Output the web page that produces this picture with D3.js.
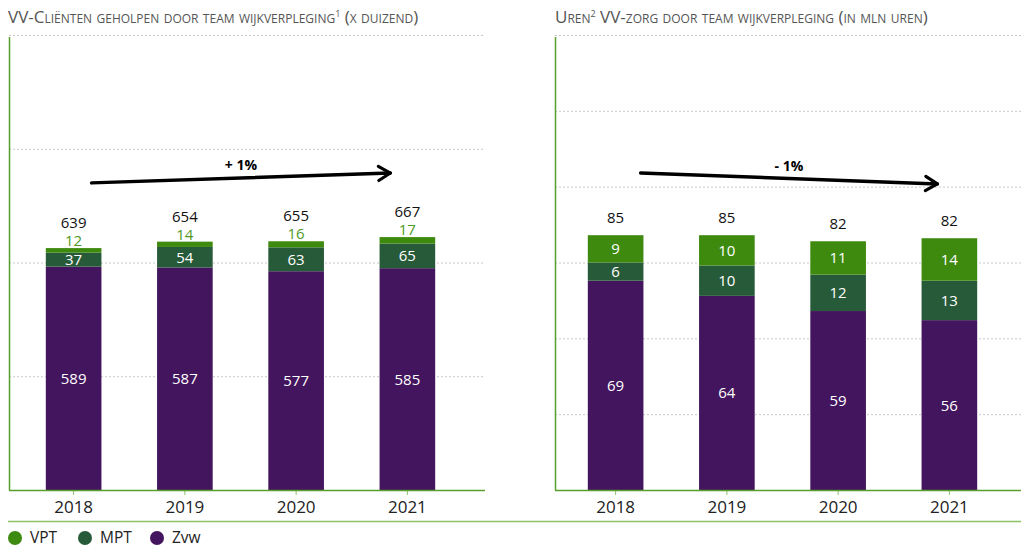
<!DOCTYPE html>
<html>
<head>
<meta charset="utf-8">
<script src="https://cdn.jsdelivr.net/npm/d3@7"></script>
<style>
  body { margin: 0; background: #fff; }
  svg text { font-family: 'Open Sans', 'Noto Sans', sans-serif; }
</style>
</head>
<body>
<svg id="chart" width="1021" height="547"></svg>
<script>
const years = ['2018', '2019', '2020', '2021'];
const keys = ['zvw', 'mpt', 'vpt'];
const legendLabels = ['VPT', 'MPT', 'Zvw'];

// clients (x 1000)
const clientsZvw = [589, 587, 577, 585];
const clientsMpt = [37, 54, 63, 65];
const clientsVpt = [12, 14, 16, 17];
const clientsTotal = [639, 654, 655, 667];
const clientsTicks = [0, 300, 600, 900, 1200];
const clientsTrend = { label: '+ 1%', from: 810, to: 836 };

// hours (mln)
const hoursZvw = [69, 64, 59, 56];
const hoursMpt = [6, 10, 12, 13];
const hoursVpt = [9, 10, 11, 14];
const hoursTotal = [85, 85, 82, 82];
const hoursTicks = [0, 25, 50, 75, 100, 125, 150];
const hoursTrend = { label: '- 1%', from: 104.5, to: 100.9 };

const color = d3.scaleOrdinal()
  .domain(['vpt', 'mpt', 'zvw'])
  .range(['#3d8a0e', '#275a38', '#43155e']);

const svg = d3.select('#chart');
const baseY = 490;
const topY = 35;

// arrowhead
svg.append('defs').append('marker')
    .attr('id', 'arrow')
    .attr('viewBox', '0 0 10 10')
    .attr('refX', 8)
    .attr('refY', 5)
    .attr('markerWidth', 4.5)
    .attr('markerHeight', 4.5)
    .attr('orient', 'auto')
    .attr('overflow', 'visible')
  .append('path')
    .attr('d', 'M0.5,0.5 L8,5 L0.5,9.5')
    .attr('fill', 'none')
    .attr('stroke', '#000')
    .attr('stroke-width', 2)
    .attr('stroke-linecap', 'round')
    .attr('stroke-linejoin', 'round');

function panel(o) {
  const data = years.map((y, i) => ({ year: y, zvw: o.zvw[i], mpt: o.mpt[i], vpt: o.vpt[i], total: o.total[i] }));
  const stacked = d3.stack().keys(keys)(data);

  const x = d3.scaleBand().domain(years).range(o.band)
    .paddingInner(0.5).paddingOuter(0.25);
  const y = d3.scaleLinear().domain([0, d3.max(o.ticks)]).range([baseY, topY]);
  const cx = d => x(d) + x.bandwidth() / 2;

  const g = svg.append('g');

  // title (small caps, with a superscript footnote mark)
  const t = g.append('text')
      .attr('x', o.titleX)
      .attr('y', 23)
      .attr('fill', '#555')
      .attr('font-size', 17)
      .style('font-variant', 'small-caps');
  let shift = 0;
  o.title.forEach(p => {
    const dy = p.sup ? -6 : 0;
    t.append('tspan')
      .attr('dy', dy - shift)
      .attr('font-size', p.sup ? 9 : 17)
      .text(p.text);
    shift = dy;
  });

  // grid
  g.selectAll('.grid')
    .data(o.ticks.slice(1))
    .enter().append('line')
      .attr('x1', o.left)
      .attr('x2', o.right)
      .attr('y1', d => y(d) + 0.5)
      .attr('y2', d => y(d) + 0.5)
      .attr('stroke', '#c8c8c8')
      .attr('stroke-dasharray', '2,2');

  // bars
  g.selectAll('.layer')
    .data(stacked)
    .enter().append('g')
      .attr('fill', d => color(d.key))
    .selectAll('rect')
    .data(d => d)
    .enter().append('rect')
      .attr('x', d => x(d.data.year))
      .attr('width', x.bandwidth())
      .attr('y', d => y(d[1]))
      .attr('height', d => y(d[0]) - y(d[1]));

  // segment labels
  stacked.forEach(layer => {
    const outside = layer.key === 'vpt' && o.vptOutside;
    g.selectAll(null)
      .data(layer)
      .enter().append('text')
        .attr('x', d => cx(d.data.year))
        .attr('y', d => outside ? y(d[1]) - 2 : (y(d[0]) + y(d[1])) / 2 + 5.5)
        .attr('text-anchor', 'middle')
        .attr('font-size', 15)
        .attr('fill', outside ? '#4e9a25' : '#fff')
        .text(d => d.data[layer.key]);
  });

  // totals
  g.selectAll('.total')
    .data(data)
    .enter().append('text')
      .attr('x', d => cx(d.year))
      .attr('y', d => y(d.zvw + d.mpt + d.vpt) - o.totalGap)
      .attr('text-anchor', 'middle')
      .attr('font-size', 15)
      .attr('fill', '#111')
      .text(d => d.total);

  // left axis line
  g.append('line')
    .attr('x1', o.left + 0.5).attr('x2', o.left + 0.5)
    .attr('y1', topY + 2).attr('y2', baseY)
    .attr('stroke', '#5a9e2b')
    .attr('stroke-width', 1.5);

  // bottom axis
  const ax = g.append('g')
      .attr('transform', `translate(0,${baseY})`)
      .call(d3.axisBottom(x).tickSize(5).tickPadding(6).tickSizeOuter(0));
  ax.select('.domain').remove();
  ax.selectAll('.tick line').attr('stroke', '#8cc36a');
  ax.selectAll('.tick text')
      .attr('font-size', 17)
      .attr('fill', '#222')
      .style('font-family', "'Open Sans', 'Noto Sans', sans-serif");
  g.append('line')
    .attr('x1', o.left).attr('x2', o.right)
    .attr('y1', baseY + 0.5).attr('y2', baseY + 0.5)
    .attr('stroke', '#5a9e2b')
    .attr('stroke-width', 1.5);

  // trend arrow
  const x0 = cx(years[0]) + o.arrowInset[0];
  const x1 = cx(years[years.length - 1]) - o.arrowInset[1];
  const y0 = y(o.trend.from);
  const y1 = y(o.trend.to);
  g.append('line')
    .attr('x1', x0).attr('y1', y0)
    .attr('x2', x1).attr('y2', y1)
    .attr('stroke', '#000')
    .attr('stroke-width', 3.5)
    .attr('stroke-linecap', 'round')
    .attr('marker-end', 'url(#arrow)');
  g.append('text')
    .attr('x', (x0 + x1) / 2)
    .attr('y', (y0 + y1) / 2 - 7.5)
    .attr('text-anchor', 'middle')
    .attr('font-size', 14)
    .attr('font-weight', 'bold')
    .attr('fill', '#000')
    .text(o.trend.label);
}

panel({
  zvw: clientsZvw, mpt: clientsMpt, vpt: clientsVpt, total: clientsTotal,
  ticks: clientsTicks, trend: clientsTrend,
  left: 9, right: 485, band: [18, 463], titleX: 8,
  vptOutside: true, totalGap: 20, arrowInset: [18, 17],
  title: [{ text: 'VV-Cliënten geholpen door team wijkverpleging' }, { text: '1', sup: true }, { text: ' (x duizend)' }]
});

panel({
  zvw: hoursZvw, mpt: hoursMpt, vpt: hoursVpt, total: hoursTotal,
  ticks: hoursTicks, trend: hoursTrend,
  left: 555, right: 1021, band: [560, 1005], titleX: 555,
  vptOutside: false, totalGap: 12, arrowInset: [25, 12],
  title: [{ text: 'Uren' }, { text: '2', sup: true }, { text: ' VV-zorg door team wijkverpleging (in mln uren)' }]
});

// separator
svg.append('line')
  .attr('x1', 8).attr('x2', 1021)
  .attr('y1', 521.5).attr('y2', 521.5)
  .attr('stroke', '#8cc36a')
  .attr('stroke-width', 1.5);

// legend
const legend = svg.append('g')
  .selectAll('g')
  .data(legendLabels)
  .enter().append('g')
    .attr('transform', (d, i) => `translate(${[15, 85, 157][i]},538)`);
legend.append('circle')
  .attr('r', 7)
  .attr('fill', (d, i) => color(['vpt', 'mpt', 'zvw'][i]));
legend.append('text')
  .attr('x', 15)
  .attr('y', 5)
  .attr('font-size', 15.5)
  .attr('fill', '#222')
  .text(d => d);
</script>
</body>
</html>
